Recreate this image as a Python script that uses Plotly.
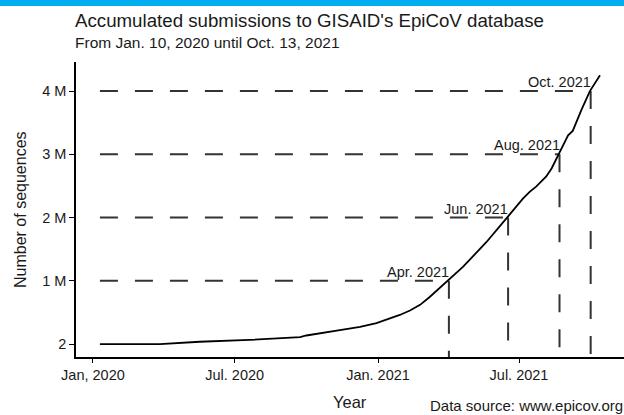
import plotly.graph_objects as go

# ---- data ----
dates = ["2020-01-10", "2020-03-27", "2020-05-17", "2020-07-20", "2020-09-23",
         "2020-10-01", "2020-11-13", "2020-12-09", "2020-12-30", "2021-01-29",
         "2021-02-11", "2021-02-24", "2021-03-08", "2021-03-20", "2021-04-01",
         "2021-04-20", "2021-05-20", "2021-06-06", "2021-06-17", "2021-07-06",
         "2021-07-15", "2021-07-23", "2021-07-30", "2021-08-05", "2021-08-12",
         "2021-08-21", "2021-08-29", "2021-09-02", "2021-09-08", "2021-09-19",
         "2021-09-30", "2021-10-13"]
sequences_millions = [0.0, 0.0, 0.036, 0.065, 0.11,
                      0.135, 0.22, 0.27, 0.33, 0.46,
                      0.53, 0.62, 0.74, 0.87, 1.01,
                      1.22, 1.61, 1.85, 2.02, 2.30,
                      2.41, 2.49, 2.57, 2.65, 2.78,
                      2.99, 3.20, 3.30, 3.37, 3.70,
                      4.00, 4.25]
sequences = [v * 1e6 for v in sequences_millions]

milestone_dates = ["2021-04-02", "2021-06-17", "2021-08-22", "2021-10-01"]
milestone_levels = [1e6, 2e6, 3e6, 4e6]
milestone_labels = ["Apr. 2021", "Jun. 2021", "Aug. 2021", "Oct. 2021"]

x_tickvals = ["2020-01-01", "2020-07-01", "2021-01-01", "2021-07-01"]
x_ticktext = ["Jan, 2020", "Jul. 2020", "Jan. 2021", "Jul. 2021"]
y_tickvals = [2, 1e6, 2e6, 3e6, 4e6]
y_ticktext = ["2", "1 M", "2 M", "3 M", "4 M"]

x_range = ["2019-12-10 07:00", "2021-11-12 19:00"]
y_range = [-0.205e6, 4.46e6]

FONT = "Liberation Sans, Arial, Helvetica, sans-serif"
TXT = "#1a1a1a"
DASH = "18px,17px"
DASHCOL = "#333333"
BANNER = "#00AEEF"

fig = go.Figure()

# dashed guide lines (horizontal from data start to milestone, vertical down to axis)
for d, lvl, lab in zip(milestone_dates, milestone_levels, milestone_labels):
    fig.add_trace(go.Scatter(x=[dates[0], d], y=[lvl, lvl], mode="lines",
                             line=dict(color=DASHCOL, width=2, dash=DASH),
                             hoverinfo="skip", showlegend=False))
    fig.add_trace(go.Scatter(x=[d, d], y=[lvl, y_range[0]], mode="lines",
                             line=dict(color=DASHCOL, width=2, dash=DASH),
                             hoverinfo="skip", showlegend=False, cliponaxis=False))
    fig.add_annotation(x=d, y=lvl, xref="x", yref="y", text=lab, showarrow=False,
                       xanchor="right", yanchor="middle", yshift=9, xshift=2,
                       font=dict(family=FONT, size=14.5, color=TXT))

fig.add_trace(go.Scatter(x=dates, y=sequences, mode="lines",
                         line=dict(color="black", width=1.8),
                         showlegend=False))

L, T, W, H = 76, 62, 548, 295

def py(pix):
    return (T + H - pix) / H

def px(pix):
    return (pix - L) / W

fig.update_layout(
    width=624, height=415,
    margin=dict(l=L, r=624 - L - W, t=T, b=415 - T - H, pad=0),
    paper_bgcolor="white", plot_bgcolor="white",
    font=dict(family=FONT, color=TXT),
    xaxis=dict(type="date", range=x_range, tickvals=x_tickvals, ticktext=x_ticktext,
               showgrid=False, zeroline=False, showline=True, linecolor="black",
               linewidth=1.6, ticks="outside", ticklen=4, tickwidth=1.2,
               tickcolor="black", tickfont=dict(size=14.5, color=TXT, family=FONT)),
    yaxis=dict(range=y_range, tickvals=y_tickvals, ticktext=y_ticktext,
               showgrid=False, zeroline=False, showline=True, linecolor="black",
               linewidth=1.6, ticks="outside", ticklen=5, tickwidth=1.2,
               tickcolor="black", tickfont=dict(size=14.5, color=TXT, family=FONT)),
)
# top banner
fig.add_shape(type="rect", xref="paper", yref="paper",
              x0=px(0), x1=px(624), y0=py(6), y1=py(0),
              fillcolor=BANNER, line=dict(width=0), layer="above")

fig.add_annotation(text="Accumulated submissions to GISAID's EpiCoV database",
                   xref="paper", yref="paper", x=px(73), y=py(20),
                   xanchor="left", yanchor="middle", showarrow=False,
                   font=dict(size=18.7, family=FONT, color=TXT))
fig.add_annotation(text="From Jan. 10, 2020 until Oct. 13, 2021",
                   xref="paper", yref="paper", x=px(73), y=py(43),
                   xanchor="left", yanchor="middle", showarrow=False,
                   font=dict(size=15.5, family=FONT, color=TXT))
fig.add_annotation(text="Number of sequences", textangle=-90,
                   xref="paper", yref="paper", x=px(20), y=py(210),
                   xanchor="center", yanchor="middle", showarrow=False,
                   font=dict(size=16, family=FONT, color=TXT))
fig.add_annotation(text="Year", xref="paper", yref="paper", x=0.5, y=py(402),
                   xanchor="center", yanchor="middle", showarrow=False,
                   font=dict(size=16.5, family=FONT, color=TXT))
fig.add_annotation(text="Data source: www.epicov.org", xref="paper", yref="paper",
                   x=px(625), y=py(405), xanchor="right", yanchor="middle",
                   showarrow=False, font=dict(size=15, family=FONT, color=TXT))

fig.write_html("out.html", config={"displayModeBar": False},
               post_script="document.body.style.margin='0px';document.body.style.overflow='hidden';")
